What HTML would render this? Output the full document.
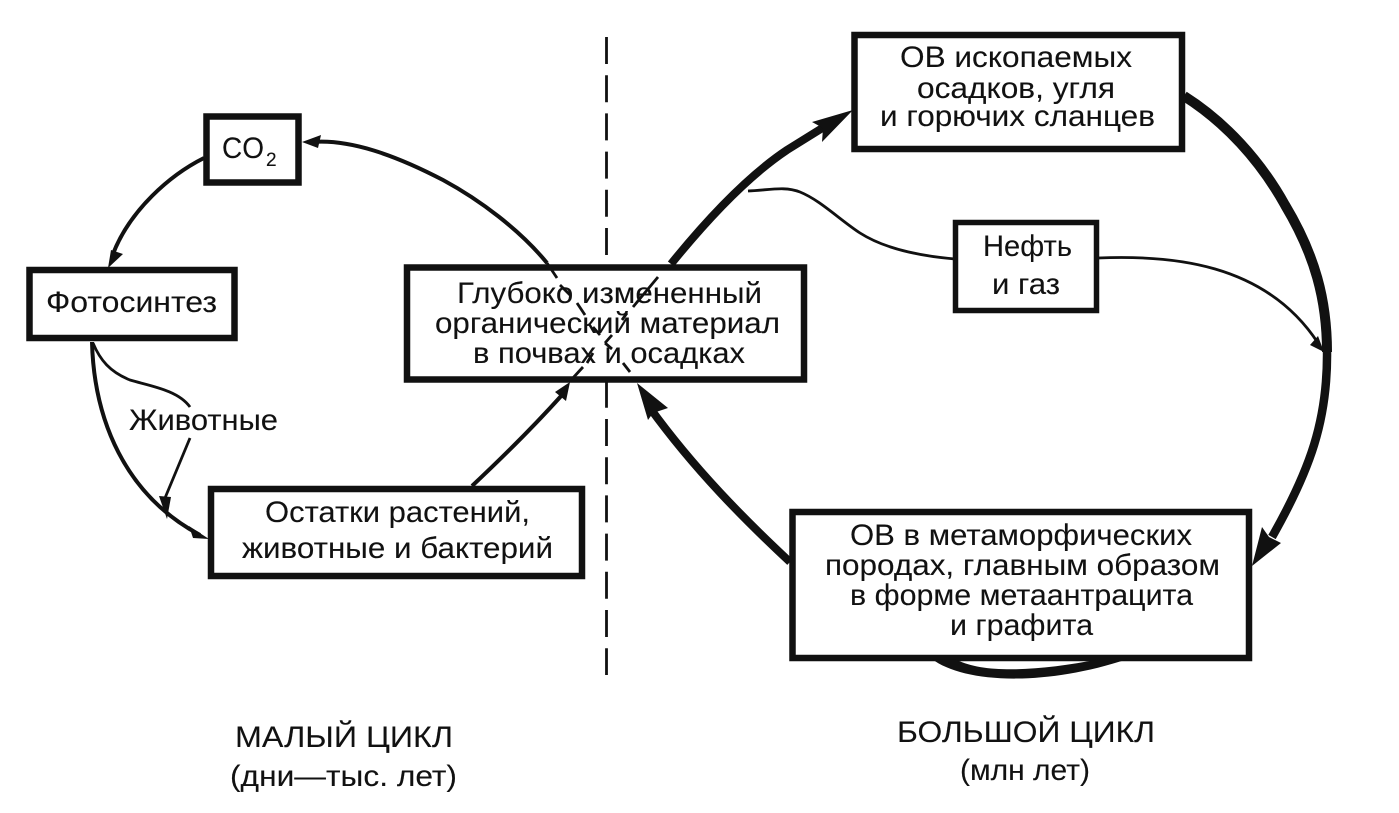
<!DOCTYPE html>
<html lang="ru"><head><meta charset="utf-8"><style>
html,body{margin:0;padding:0;background:#fff}
svg{display:block}
text{font-family:"Liberation Sans",sans-serif;font-size:30px;fill:#111;stroke:#111;stroke-width:.1}
.b{fill:#fff;stroke:#111;stroke-width:6.5}
.t{fill:none;stroke:#111;stroke-width:2.8}
.m{fill:none;stroke:#111;stroke-width:4}
.k{fill:none;stroke:#111;stroke-width:8}
.a{fill:#111;stroke:none}
</style></head><body>
<svg width="1399" height="813" viewBox="0 0 1399 813" xmlns="http://www.w3.org/2000/svg">
<path d="M606.500 37V675" fill="none" stroke="#111" stroke-width="2.800" stroke-dasharray="27 11.200"/>
<rect class="b" x="854.500" y="35" width="327.500" height="114"/>
<rect class="b" x="206.500" y="116.500" width="92" height="66"/>
<rect class="b" x="29.500" y="270" width="205" height="68"/>
<rect class="b" x="955.500" y="222.500" width="141" height="88" style="stroke-width:5.500"/>
<rect class="b" x="407" y="267.500" width="397" height="112"/>
<rect class="b" x="211" y="489" width="371" height="87"/>
<rect class="b" x="792.500" y="512" width="456.500" height="146"/>

<path class="m" d="M204 158C170 175 130 210 113 254"/><path class="a" d="M108 268L111 250L123 254Z"/>
<path class="m" d="M92 342C94 420 125 495 200 535"/><path class="a" d="M209 539L189 526L193 538Z"/>
<path class="t" d="M93 343C100 360 110 372 130 380C150 386 178 390 190 407"/>
<path class="t" d="M190 438L165 498"/><path class="a" d="M167 519L159 496L171 497Z"/>

<path class="m" d="M312 142C350 139 395 155 443 180C480 200 520 230 547 263"/><path class="a" d="M302 142L321 135L318 148Z"/>
<path class="t" d="M547 263L557 278M560 285L570 295M577 303L585 315M593 327L600 335M605 343L612 349M623 363L630 372"/>
<path class="t" d="M658 277L633 307M627 313L622 320M612 335L605 343M593 353L587 363"/>
<path class="t" d="M583 367L572 379"/>
<path class="m" d="M472 486C505 455 535 425 562 395"/><path class="a" d="M570 382L566 401L555 392Z"/>

<path class="k" d="M671 264C705 222 745 178 787 150L832 122"/><path class="a" d="M853 110L812 122L823 128L822 142Z"/>
<path class="t" d="M748 191C770 190 785 186 800 192C820 200 840 220 860 233C885 249 920 256 955 259"/>
<path class="t" d="M1098 258C1170 255 1265 262 1318 343"/><path class="a" d="M1324 352L1310 345L1318 336Z"/>

<path d="M1184 96C1225 122 1260 160 1285 205C1315 255 1327 300 1327 352" fill="none" stroke="#111" stroke-width="10"/>
<path d="M1327 350C1328 420 1310 470 1272 537" fill="none" stroke="#111" stroke-width="8.500"/>
<path class="a" d="M1252 566L1262 527L1269 537L1281 543Z"/>

<path class="k" d="M790 562C745 520 695 470 650 408"/><path class="a" d="M637 383L668 408L653 413L648 420Z"/>
<path class="a" d="M932 659C962 682 1040 688 1128 659H1100C1040 671 985 674 957 660Z"/>

<text x="900" y="67" textLength="232" lengthAdjust="spacingAndGlyphs">ОВ ископаемых</text>
<text x="917" y="98" textLength="198" lengthAdjust="spacingAndGlyphs">осадков, угля</text>
<text x="880" y="126" textLength="275" lengthAdjust="spacingAndGlyphs">и горючих сланцев</text>
<text x="222" y="158" textLength="42" lengthAdjust="spacingAndGlyphs">CO</text><text x="266" y="166" style="font-size:19px">2</text>
<text x="46" y="312" textLength="171" lengthAdjust="spacingAndGlyphs">Фотосинтез</text>
<text x="983" y="256" textLength="89" lengthAdjust="spacingAndGlyphs">Нефть</text>
<text x="992" y="294" textLength="68" lengthAdjust="spacingAndGlyphs">и газ</text>
<text x="457" y="303" textLength="305" lengthAdjust="spacingAndGlyphs">Глубоко измененный</text>
<text x="435" y="333" textLength="345" lengthAdjust="spacingAndGlyphs">органический материал</text>
<text x="473" y="363" textLength="272" lengthAdjust="spacingAndGlyphs">в почвах и осадках</text>
<text x="129" y="430" textLength="149" lengthAdjust="spacingAndGlyphs">Животные</text>
<text x="265" y="522" textLength="265" lengthAdjust="spacingAndGlyphs">Остатки растений,</text>
<text x="242" y="558" textLength="311" lengthAdjust="spacingAndGlyphs">животные и бактерий</text>
<text x="850" y="545" textLength="342" lengthAdjust="spacingAndGlyphs">ОВ в метаморфических</text>
<text x="825" y="575" textLength="395" lengthAdjust="spacingAndGlyphs">породах, главным образом</text>
<text x="850" y="605" textLength="343" lengthAdjust="spacingAndGlyphs">в форме метаантрацита</text>
<text x="950" y="635" textLength="143" lengthAdjust="spacingAndGlyphs">и графита</text>
<text x="235" y="747" textLength="218" lengthAdjust="spacingAndGlyphs">МАЛЫЙ ЦИКЛ</text>
<text x="230" y="786" textLength="227" lengthAdjust="spacingAndGlyphs">(дни—тыс. лет)</text>
<text x="897" y="742" textLength="258" lengthAdjust="spacingAndGlyphs">БОЛЬШОЙ ЦИКЛ</text>
<text x="960" y="780" textLength="130" lengthAdjust="spacingAndGlyphs">(млн лет)</text>
</svg></body></html>
